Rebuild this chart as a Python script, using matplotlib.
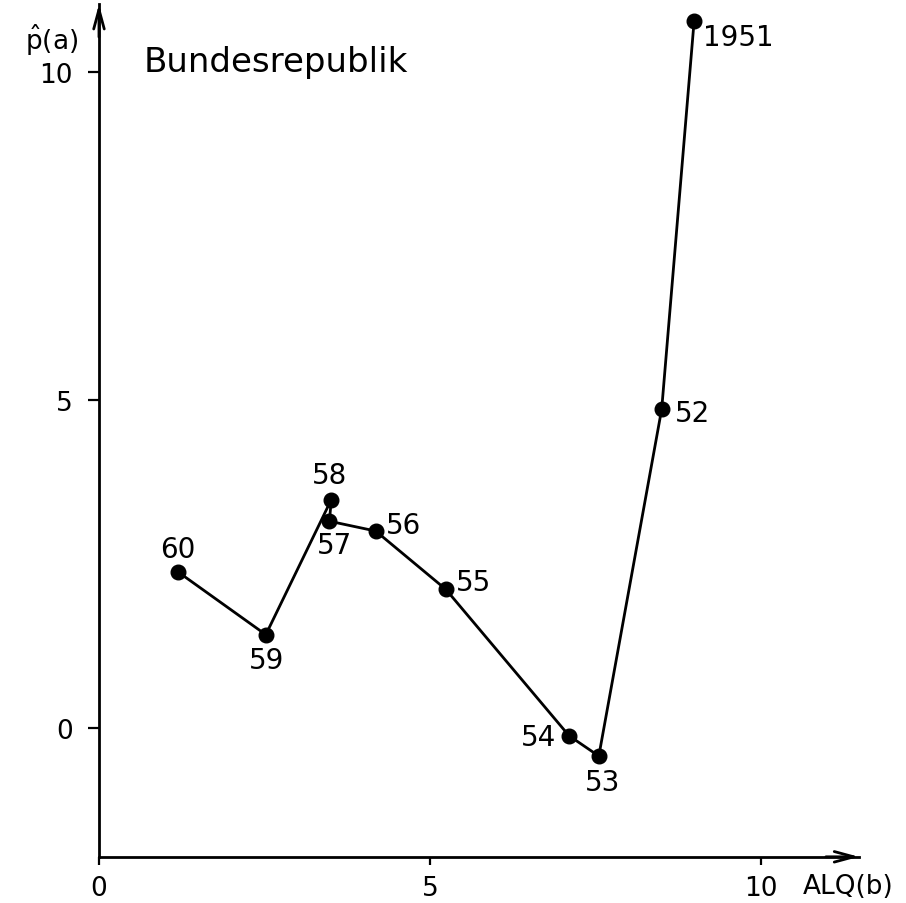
import matplotlib
matplotlib.use('Agg')
import matplotlib.pyplot as plt

#——————————
# ALQ(b) vs p^(a), Bundesrepublik 1951-1960

years = ['1951', '52', '53', '54', '55', '56', '57', '58', '59', '60']
alq = [8.99, 8.50, 7.55, 7.10, 5.24, 4.18, 3.48, 3.51, 2.52, 1.19]
p_hat = [10.78, 4.86, -0.43, -0.12, 2.11, 3.00, 3.15, 3.48, 1.42, 2.38]

xticks = [0, 5, 10]
yticks = [0, 5, 10]

# label offsets in points (dx, dy, ha)
lab_off = {'1951': (6.5, -11.5, 'left'), '52': (9.4, -2.9, 'left'),
           '53': (2.9, -18.7, 'center'), '54': (-9.4, -0.7, 'right'),
           '55': (7.2, 5.0, 'left'), '56': (7.2, 4.3, 'left'),
           '57': (3.6, -17.3, 'center'), '58': (-1.4, 18.0, 'center'),
           '59': (0.7, -18.0, 'center'), '60': (0.0, 16.6, 'center')}

#——————————

plt.rcParams['font.family'] = ['DejaVu Sans']
fig = plt.figure(figsize=(9.06, 9.04), dpi=100)
ax = fig.add_axes([0, 0, 1, 1])
ax.set_xlim(-1.495, 12.19)
ax.set_ylim(-2.67, 11.11)

y_base = -1.966   # where the x axis sits
x_tip = 11.48
y_tip = 11.03

for s in ['top', 'right']:
    ax.spines[s].set_visible(False)
ax.spines['left'].set_position(('data', 0))
ax.spines['bottom'].set_position(('data', y_base))
ax.spines['left'].set_bounds(y_base, y_tip)
ax.spines['bottom'].set_bounds(0, x_tip)
ax.spines['left'].set_linewidth(2)
ax.spines['bottom'].set_linewidth(2)

# arrow heads
head = '->,head_length=1.4,head_width=0.38'
ax.annotate('', xy=(0, y_tip), xytext=(0, y_tip - 0.5),
            arrowprops=dict(arrowstyle=head, lw=2, shrinkA=0, shrinkB=0))
ax.annotate('', xy=(x_tip, y_base), xytext=(x_tip - 0.5, y_base),
            arrowprops=dict(arrowstyle=head, lw=2, shrinkA=0, shrinkB=0))

ax.set_xticks(xticks)
ax.set_yticks(yticks)
ax.tick_params(axis='x', direction='out', length=6, width=1.6, pad=7, labelsize=19)
ax.tick_params(axis='y', direction='out', length=8, width=1.6, pad=11, labelsize=19)

ax.plot(alq, p_hat, color='black', lw=2, marker='o', markersize=10.5, zorder=3)

for yr, xv, yv in zip(years, alq, p_hat):
    dx, dy, ha = lab_off[yr]
    ax.annotate(yr, xy=(xv, yv), xytext=(dx, dy), textcoords='offset points',
                ha=ha, va='center', fontsize=20)

ax.annotate('ALQ(b)', xy=(10, y_base), xytext=(30, -21), textcoords='offset points',
            ha='left', va='center', fontsize=19)
ax.annotate(r'$\hat{\mathrm{p}}$(a)', xy=(0, y_tip), xytext=(-15, -25), textcoords='offset points',
            ha='right', va='center', fontsize=19)
ax.text(0.158, 0.92, 'Bundesrepublik', transform=ax.transAxes, fontsize=24.5, va='baseline')

plt.savefig('out.png', dpi=100)
